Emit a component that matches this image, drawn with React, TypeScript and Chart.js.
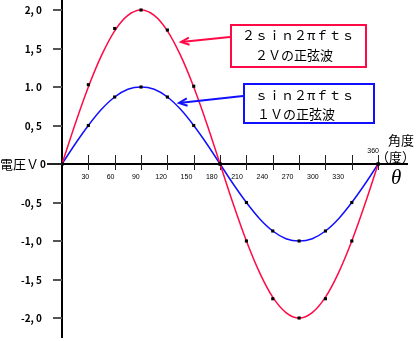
import React, { useEffect, useRef } from 'react';
import { Chart, registerables } from 'chart.js';

Chart.register(...registerables);

// ---- data ----
const angles = [0, 15, 30, 45, 60, 75, 90, 105, 120, 135, 150, 165, 180, 195, 210, 225, 240, 255, 270, 285, 300, 315, 330, 345, 360];
const wave1V = [0, 0.26, 0.5, 0.71, 0.87, 0.97, 1.0, 0.97, 0.87, 0.71, 0.5, 0.26, 0, -0.26, -0.5, -0.71, -0.87, -0.97, -1.0, -0.97, -0.87, -0.71, -0.5, -0.26, 0];
const wave2V = [0, 0.52, 1.0, 1.41, 1.73, 1.93, 2.0, 1.93, 1.73, 1.41, 1.0, 0.52, 0, -0.52, -1.0, -1.41, -1.73, -1.93, -2.0, -1.93, -1.73, -1.41, -1.0, -0.52, 0];
const dotAngles = [0, 30, 60, 90, 120, 150, 180, 210, 240, 270, 300, 330, 360];
const dots1V = [0, 0.5, 0.87, 1.0, 0.87, 0.5, 0, -0.5, -0.87, -1.0, -0.87, -0.5, 0];
const dots2V = [0, 1.03, 1.76, 2.0, 1.74, 1.01, 0, -1.0, -1.75, -2.0, -1.75, -1.0, 0];
const yTickValues = [2, 1.5, 1, 0.5, 0, -0.5, -1, -1.5, -2];
const yTickLabels = ['2, 0', '1, 5', '1. 0', '0, 5', '0', '-0, 5', '-1, 0', '-1, 5', '-2, 0'];
const xTickValues = [30, 60, 90, 120, 150, 180, 210, 240, 270, 300, 330, 360];
const xTickLabels = ['30', '60', '90', '120', '150', '180', '210', '240', '270', '300', '330', '360'];
const yAxisTitle = '電圧Ｖ';
const xAxisTitle1 = '角度';
const xAxisTitle2 = '（度）';
const xAxisSymbol = 'θ';
const note2Lines = ['２ｓｉｎ２πｆｔｓ', '２Ｖの正弦波'];
const note1Lines = ['ｓｉｎ２πｆｔｓ', '１Ｖの正弦波'];

const RED = '#ff0a46';
const BLUE = '#1010ff';
const JP = '"Noto Sans CJK JP", "Noto Sans", sans-serif';

function drawArrow(ctx: CanvasRenderingContext2D, x1: number, y1: number, x2: number, y2: number, color: string) {
  ctx.save();
  ctx.strokeStyle = color;
  ctx.lineWidth = 2;
  ctx.beginPath();
  ctx.moveTo(x1, y1);
  ctx.lineTo(x2, y2);
  ctx.stroke();
  const ang = Math.atan2(y2 - y1, x2 - x1);
  const L = 9;
  ctx.beginPath();
  ctx.moveTo(x2 - L * Math.cos(ang - 0.42), y2 - L * Math.sin(ang - 0.42));
  ctx.lineTo(x2, y2);
  ctx.lineTo(x2 - L * Math.cos(ang + 0.42), y2 - L * Math.sin(ang + 0.42));
  ctx.stroke();
  ctx.restore();
}

const axisPlugin = {
  id: 'customAxis',
  beforeDatasetsDraw(chart: any) {
    const { ctx, chartArea, scales } = chart;
    const xs = scales.x;
    const ys = scales.y;
    const y0 = ys.getPixelForValue(0);
    const x0 = xs.getPixelForValue(0);
    ctx.save();
    // vertical axis
    ctx.strokeStyle = '#000';
    ctx.lineWidth = 2;
    ctx.beginPath();
    ctx.moveTo(x0, chartArea.top);
    ctx.lineTo(x0, chartArea.bottom - 3);
    ctx.stroke();
    // y ticks + labels
    ctx.font = `bold 10px ${JP}`;
    ctx.textAlign = 'right';
    ctx.textBaseline = 'middle';
    ctx.fillStyle = '#000';
    yTickValues.forEach((v, i) => {
      const py = Math.round(ys.getPixelForValue(v));
      ctx.strokeStyle = v === 0 ? '#222' : '#555';
      ctx.beginPath();
      ctx.moveTo(x0 - (v === 0 ? 15 : 9), py);
      ctx.lineTo(x0, py);
      ctx.stroke();
      ctx.fillText(yTickLabels[i], v === 0 ? x0 - 16 : x0 - 20, py);
    });
    // horizontal axis
    ctx.strokeStyle = '#000';
    ctx.lineWidth = 2;
    ctx.beginPath();
    ctx.moveTo(x0, y0);
    ctx.lineTo(chartArea.right, y0);
    ctx.stroke();
    // x ticks
    ctx.lineWidth = 1;
    ctx.strokeStyle = '#222';
    xTickValues.forEach((v) => {
      const px = Math.round(xs.getPixelForValue(v)) + 0.5;
      ctx.beginPath();
      ctx.moveTo(px, y0 - 9);
      ctx.lineTo(px, y0 + 6);
      ctx.stroke();
    });
    // x tick labels
    ctx.fillStyle = '#000';
    ctx.font = '7px "Liberation Sans", sans-serif';
    ctx.textAlign = 'center';
    ctx.textBaseline = 'middle';
    xTickValues.forEach((v, i) => {
      if (v === 360) {
        ctx.fillText(xTickLabels[i], xs.getPixelForValue(v) - 5, y0 - 13);
      } else {
        ctx.fillText(xTickLabels[i], xs.getPixelForValue(v * 0.96) - 2, y0 + 13);
      }
    });
    ctx.restore();
  },
  afterDraw(chart: any) {
    const { ctx, scales } = chart;
    const ys = scales.y;
    const y0 = ys.getPixelForValue(0);
    ctx.save();
    ctx.fillStyle = '#000';
    ctx.textBaseline = 'middle';
    ctx.textAlign = 'left';
    ctx.font = `13px ${JP}`;
    ctx.fillText(yAxisTitle, 0, y0);
    ctx.fillText(xAxisTitle1, 388, 140);
    ctx.fillText(xAxisTitle2, 376, 157);
    ctx.font = 'italic 21px "Liberation Serif", "DejaVu Serif", serif';
    ctx.fillText(xAxisSymbol, 391, 178);

    // red note box
    ctx.strokeStyle = RED;
    ctx.lineWidth = 2;
    ctx.strokeRect(231, 25, 135, 42);
    ctx.font = `13px ${JP}`;
    ctx.fillText(note2Lines[0], 242, 35);
    ctx.fillText(note2Lines[1], 255, 55);
    drawArrow(ctx, 230, 37, 181, 42, RED);

    // blue note box
    ctx.strokeStyle = BLUE;
    ctx.strokeRect(244, 84, 130, 39);
    ctx.fillText(note1Lines[0], 255, 95);
    ctx.fillText(note1Lines[1], 257, 114);
    drawArrow(ctx, 243, 96, 179, 103, BLUE);
    ctx.restore();
  },
};

export default function App() {
  const ref = useRef<HTMLCanvasElement | null>(null);
  useEffect(() => {
    if (!ref.current) return;
    const toPts = (xs: number[], ys: number[]) => xs.map((x, i) => ({ x, y: ys[i] }));
    const chart = new Chart(ref.current, {
      type: 'line',
      data: {
        datasets: [
          {
            label: 'dots2',
            data: toPts(dotAngles, dots2V),
            showLine: false,
            pointStyle: 'rect',
            pointRadius: 2.2,
            pointBackgroundColor: '#000',
            pointBorderWidth: 0,
          },
          {
            label: 'dots1',
            data: toPts(dotAngles, dots1V),
            showLine: false,
            pointStyle: 'rect',
            pointRadius: 2.2,
            pointBackgroundColor: '#000',
            pointBorderWidth: 0,
          },
          {
            label: '2V',
            data: toPts(angles, wave2V),
            borderColor: RED,
            borderWidth: 1.5,
            pointRadius: 0,
            cubicInterpolationMode: 'monotone',
            fill: false,
          },
          {
            label: '1V',
            data: toPts(angles, wave1V),
            borderColor: BLUE,
            borderWidth: 1.5,
            pointRadius: 0,
            cubicInterpolationMode: 'monotone',
            fill: false,
          },
        ],
      },
      options: {
        animation: false,
        responsive: false,
        maintainAspectRatio: false,
        layout: { autoPadding: false, padding: { left: 62, right: 8, top: 0, bottom: 0 } },
        plugins: { legend: { display: false }, tooltip: { enabled: false } },
        scales: {
          x: { type: 'linear', min: 0, max: 394, display: false },
          y: { type: 'linear', min: -2.2987, max: 2.1299, display: false },
        },
      },
      plugins: [axisPlugin],
    } as any);
    return () => chart.destroy();
  }, []);
  return (
    <div style={{ position: 'absolute', left: 0, top: 0, width: 416, height: 341, background: '#fff' }}>
      <canvas ref={ref} width={416} height={341} style={{ width: 416, height: 341 }} />
    </div>
  );
}
